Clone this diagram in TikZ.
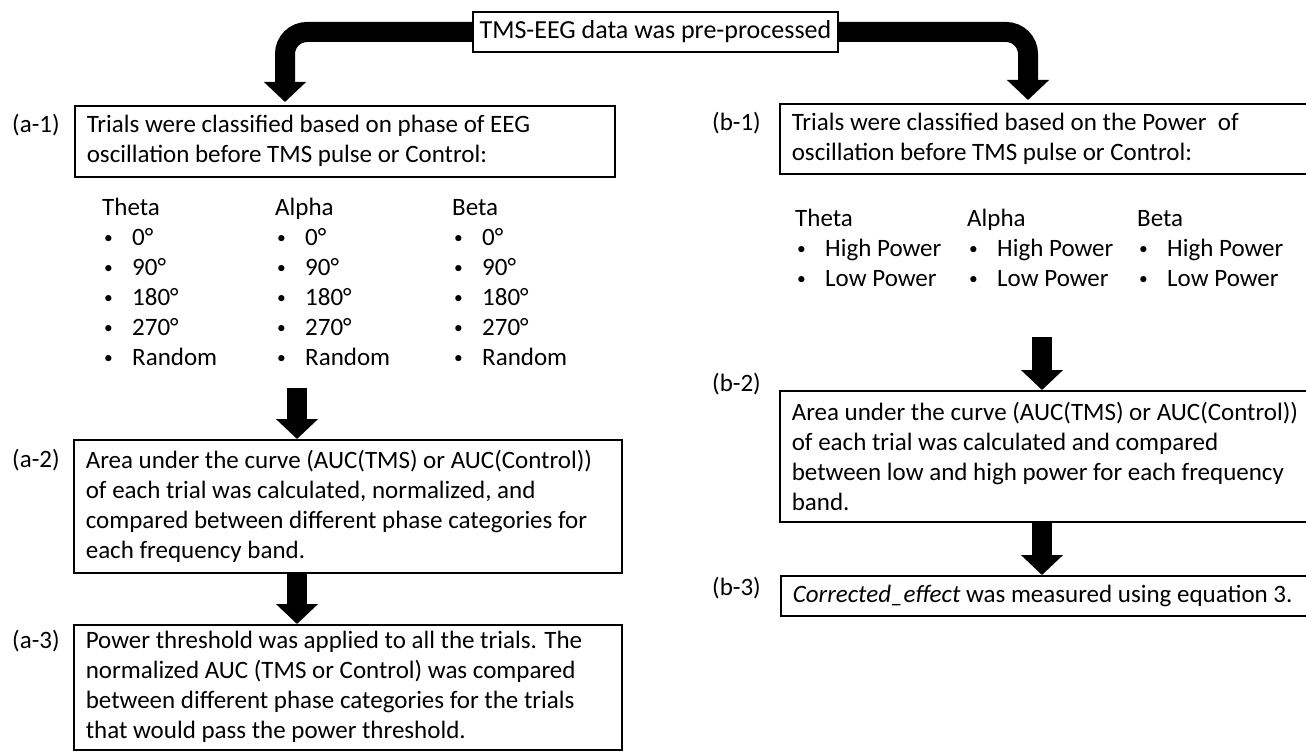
\documentclass[tikz,border=0pt]{standalone}
\usepackage{fontspec}
\setmainfont{Carlito}
\usetikzlibrary{arrows.meta}

\newcommand{\boxcolor}{black}
\newcommand{\arrowcolor}{black}
\tikzset{
  stepbox/.style={draw=\boxcolor,line width=1.6pt,anchor=north west,
    align=flush left,inner xsep=12pt,inner ysep=0pt},
  steptag/.style={anchor=base west,inner sep=0pt},
  bandlist/.style={anchor=north west,align=flush left,inner sep=0pt},
  fatarrow/.style={draw=\arrowcolor,line width=20pt,
    -{Triangle[width=41pt,length=20pt]}},
}
\newcommand{\processbox}[5]{%
    % Process Box with Flush-Left Text
    % \processbox{name}{north west corner}{width}{height}{text}
    % example:
    %   \processbox{s}{(0,0)}{300}{40}{one line\\another line}
    \pgfmathsetmacro{\innerwidth}{#3-24}%
    \node[stepbox,text width=\innerwidth pt,minimum height=#4pt] (#1) at #2 {#5};%
}
\newcommand{\bulletitem}[1]{%
    % Bullet Line of a Band List
    % \bulletitem{text}
    \makebox[30pt][l]{\hspace{2pt}\raisebox{1.5pt}{\scalebox{0.7}{\textbullet}}}#1%
}

\begin{document}
\begin{tikzpicture}[x=1pt,y=-1pt,font=\fontsize{25}{30}\selectfont]
  \useasboundingbox (0,0) rectangle (1306,751);
  \node[draw=\boxcolor,line width=1.6pt,minimum width=365pt,minimum height=40pt,
    inner sep=0pt,font=\fontsize{26}{30}\selectfont] (pre) at (655.5,32)
    {TMS-EEG data was pre-processed};

  % phase branch
  \processbox{aOne}{(74,105)}{540}{71}{Trials were classified based on phase of EEG\\
    oscillation before TMS pulse or Control:}
  \node[steptag] (aOneTag) at (12,133) {(a-1)};
  \node[bandlist] (aTheta) at (102,194) {\strut Theta\\\bulletitem{0°}\\\bulletitem{90°}\\
    \bulletitem{180°}\\\bulletitem{270°}\\\bulletitem{Random}};
  \node[bandlist] (aAlpha) at (275,194) {\strut Alpha\\\bulletitem{0°}\\\bulletitem{90°}\\
    \bulletitem{180°}\\\bulletitem{270°}\\\bulletitem{Random}};
  \node[bandlist] (aBeta) at (452,194) {\strut Beta\\\bulletitem{0°}\\\bulletitem{90°}\\
    \bulletitem{180°}\\\bulletitem{270°}\\\bulletitem{Random}};
  \processbox{aTwo}{(73,439)}{548}{133}{Area under the curve (AUC(TMS) or AUC(Control))\\
    of each trial was calculated, normalized, and\\
    compared between different phase categories for\\
    each frequency band.}
  \node[steptag] (aTwoTag) at (12,467) {(a-2)};
  \processbox{aThree}{(73,624)}{548}{125}{Power threshold was applied to all the trials. The\\
    normalized AUC (TMS or Control) was compared\\
    between different phase categories for the trials\\
    that would pass the power threshold.}
  \node[steptag] (aThreeTag) at (12,648) {(a-3)};

  % power branch
  \processbox{bOne}{(779,103)}{560}{70}{Trials were classified based on the Power~ of\\
    oscillation before TMS pulse or Control:}
  \node[steptag] (bOneTag) at (712,131) {(b-1)};
  \node[bandlist] (bTheta) at (795,205) {\strut Theta\\\bulletitem{High Power}\\\bulletitem{Low Power}};
  \node[bandlist] (bAlpha) at (967,205) {\strut Alpha\\\bulletitem{High Power}\\\bulletitem{Low Power}};
  \node[bandlist] (bBeta) at (1137,205) {\strut Beta\\\bulletitem{High Power}\\\bulletitem{Low Power}};
  \processbox{bTwo}{(779,390)}{560}{131}{Area under the curve (AUC(TMS) or AUC(Control))\\
    of each trial was calculated and compared\\
    between low and high power for each frequency\\
    band.}
  \node[steptag] (bTwoTag) at (712,391) {(b-2)};
  \processbox{bThree}{(780,575)}{560}{40}{\textit{Corrected\_effect} was measured using equation 3.}
  \node[steptag] (bThreeTag) at (712,595) {(b-3)};

  % arrows
  \coordinate (aTip) at (285,102);
  \coordinate (bTip) at (1028,100);
  \draw[fatarrow,rounded corners=22pt] (pre.west) -| (aTip);
  \draw[fatarrow,rounded corners=22pt] (pre.east) -| (bTip);
  \coordinate (aStem) at (297,388);
  \coordinate (bStem) at (1042,337);
  \draw[fatarrow] (aStem) -- (aStem |- aTwo.north);
  \draw[fatarrow] (aTwo.south -| aStem) -- (aThree.north -| aStem);
  \draw[fatarrow] (bStem) -- (bStem |- bTwo.north);
  \draw[fatarrow] (bTwo.south -| bStem) -- (bThree.north -| bStem);
\end{tikzpicture}
\end{document}
